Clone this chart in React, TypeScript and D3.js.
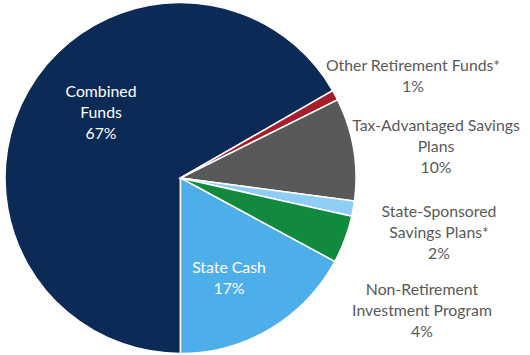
import React from "react";
import * as d3 from "d3";

const categories = [
  "Combined Funds",
  "Other Retirement Funds*",
  "Tax-Advantaged Savings Plans",
  "State-Sponsored Savings Plans*",
  "Non-Retirement Investment Program",
  "State Cash",
];
const values = [66.7, 0.95, 9.45, 1.4, 4.4, 17.1];
const percentLabels = ["67%", "1%", "10%", "2%", "4%", "17%"];
const labelLines = [
  ["Combined", "Funds"],
  ["Other Retirement Funds*"],
  ["Tax-Advantaged Savings", "Plans"],
  ["State-Sponsored", "Savings Plans*"],
  ["Non-Retirement", "Investment Program"],
  ["State Cash"],
];
const colors = ["#0C2A56", "#A61E2D", "#595959", "#8ECEF4", "#128A3D", "#4EAEE9"];

// label placement (layout, not data)
const labelPos: [number, number, string][] = [
  [101, 97, "#FFFFFF"],
  [413, 71, "#595959"],
  [436, 131, "#595959"],
  [439, 217, "#595959"],
  [422, 295, "#595959"],
  [229, 273, "#FFFFFF"],
];

export default function App() {
  const cx = 180.5;
  const cy = 178;
  const r = 175.5;
  const pie = d3
    .pie<number>()
    .sort(null)
    .startAngle(Math.PI)
    .endAngle(3 * Math.PI);
  const arcs = pie(values);
  const arc = d3.arc<d3.PieArcDatum<number>>().innerRadius(0).outerRadius(r);
  const lineH = 21;
  return (
    <svg width={530} height={355} style={{ position: "absolute", left: 0, top: 0 }}>
      <g transform={`translate(${cx},${cy})`}>
        {arcs.map((a, i) => (
          <path key={categories[i]} d={arc(a) || ""} fill={colors[i]} stroke="#FFFFFF" strokeWidth={1.5} />
        ))}
      </g>
      {labelLines.map((lines, i) => {
        const [x, y, c] = labelPos[i];
        const all = [...lines, percentLabels[i]];
        return (
          <text
            key={i}
            x={x}
            y={y}
            fill={c}
            textAnchor="middle"
            fontFamily="Lato, sans-serif"
            fontSize={15.8}
          >
            {all.map((t, j) => (
              <tspan key={j} x={x} y={y + j * lineH}>
                {t}
              </tspan>
            ))}
          </text>
        );
      })}
    </svg>
  );
}
